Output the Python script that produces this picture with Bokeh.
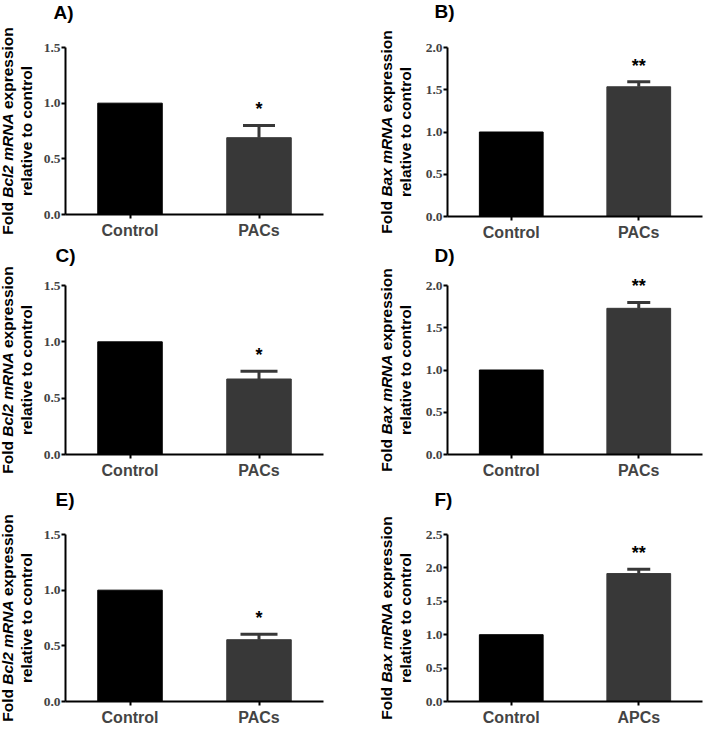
import math
from bokeh.plotting import figure
from bokeh.models import (Range1d, FactorRange, FixedTicker,
                          ColumnDataSource, Whisker, TeeHead)
from bokeh.layouts import column, row
from bokeh.embed import file_html
from bokeh.resources import INLINE
from bokeh.core.properties import value

# ---------------- data ----------------
panel_letters = ["A)", "B)", "C)", "D)", "E)", "F)"]
panel_genes = ["Bcl2", "Bax", "Bcl2", "Bax", "Bcl2", "Bax"]

categories_A = ["Control", "PACs"]
categories_B = ["Control", "PACs"]
categories_C = ["Control", "PACs"]
categories_D = ["Control", "PACs"]
categories_E = ["Control", "PACs"]
categories_F = ["Control", "APCs"]

values_A = [1.0, 0.69]
values_B = [1.0, 1.535]
values_C = [1.0, 0.67]
values_D = [1.0, 1.73]
values_E = [1.0, 0.555]
values_F = [1.0, 1.915]

errors_A = [0.0, 0.11]
errors_B = [0.0, 0.06]
errors_C = [0.0, 0.07]
errors_D = [0.0, 0.07]
errors_E = [0.0, 0.05]
errors_F = [0.0, 0.065]

stars_A = ["", "*"]
stars_B = ["", "**"]
stars_C = ["", "*"]
stars_D = ["", "**"]
stars_E = ["", "*"]
stars_F = ["", "**"]

yticks_bcl2 = [0.0, 0.5, 1.0, 1.5]
ytick_labels_bcl2 = ["0.0", "0.5", "1.0", "1.5"]
yticks_bax = [0.0, 0.5, 1.0, 1.5, 2.0]
ytick_labels_bax = ["0.0", "0.5", "1.0", "1.5", "2.0"]
yticks_bax_f = [0.0, 0.5, 1.0, 1.5, 2.0, 2.5]
ytick_labels_bax_f = ["0.0", "0.5", "1.0", "1.5", "2.0", "2.5"]

ylabel_line2 = "relative to control"

# ---------------- style / layout ----------------
BAR_COLORS = ["#000000", "#383838"]
SANS = "Liberation Sans"
SERIF = "Liberation Serif"
LABEL_FS = 15.5
LETTER_FS = 19
STAR_GAP = 16     # px between error-bar top and star anchor
BASE_SHIFT = 6    # observed drop of alphabetic-baseline text, px

W = {" ": .278, "A": .722, "B": .722, "F": .611, "N": .722, "R": .722,
     "a": .556, "c": .556, "d": .611, "e": .556, "i": .278, "l": .278,
     "m": .889, "n": .611, "o": .611, "p": .611, "r": .389, "s": .556,
     "t": .333, "v": .556, "x": .556, "2": .556}


def tw(s, fs):
    return sum(W.get(ch, .556) for ch in s) * fs


TOTAL_W = 704
lab_w = [40, 48]
main_w = [332, 284]
main_bl = [25, 27]
main_br = [49, 2]
lab_base_x = [(13, 32), (20, 39)]       # wanted baselines in label figure
letter_x = [[53, 434], [55, 434], [55, 434]]

row_start = [0, 244, 484]
strip_h = [26, 22, 26]
main_h = [218, 218, 221]
letter_base = [[18, 17], [261, 261], [505, 505]]   # page y of letter baselines
tick_top = [[21, 21], [19, 19], [24, 24]]
zero_y = [[188, 190], [188, 188], [191, 191]]

panels = [
    (categories_A, values_A, errors_A, stars_A, yticks_bcl2, ytick_labels_bcl2),
    (categories_B, values_B, errors_B, stars_B, yticks_bax, ytick_labels_bax),
    (categories_C, values_C, errors_C, stars_C, yticks_bcl2, ytick_labels_bcl2),
    (categories_D, values_D, errors_D, stars_D, yticks_bax, ytick_labels_bax),
    (categories_E, values_E, errors_E, stars_E, yticks_bcl2, ytick_labels_bcl2),
    (categories_F, values_F, errors_F, stars_F, yticks_bax_f, ytick_labels_bax_f),
]

cap_w = [32, 23, 37, 23, 37, 23]


def blank(w, h):
    f = figure(frame_width=w, frame_height=h,
               x_range=Range1d(0, w), y_range=Range1d(0, h),
               min_border=0, x_axis_type=None, y_axis_type=None,
               output_backend="svg", toolbar_location=None)
    f.outline_line_color = None
    f.border_fill_color = "white"
    f.background_fill_color = "white"
    return f


def make_main(i):
    cats, vals, errs, stars, ticks, tlabels = panels[i]
    r, c = divmod(i, 2)
    ymax = ticks[-1]
    tt = tick_top[r][c]
    zz = zero_y[r][c]
    span = zz - tt
    pxpu = span / ymax
    yend = zz / pxpu
    bb = main_h[r] - zz

    p = figure(frame_width=main_w[c] - main_bl[c] - main_br[c], frame_height=zz,
               x_range=FactorRange(factors=cats),
               y_range=Range1d(0, yend),
               min_border_left=main_bl[c], min_border_right=main_br[c],
               min_border_top=0, min_border_bottom=bb,
               output_backend="svg", toolbar_location=None)
    p.outline_line_color = None
    p.xgrid.visible = False
    p.ygrid.visible = False
    p.border_fill_color = "white"

    src = ColumnDataSource(dict(x=cats, top=vals, color=BAR_COLORS[:len(cats)]))
    p.vbar(x="x", top="top", width=0.5, source=src, fill_color="color",
           line_color="color", line_width=1)

    ex = [x for x, e in zip(cats, errs) if e > 0]
    elo = [v for v, e in zip(vals, errs) if e > 0]
    ehi = [v + e for v, e in zip(vals, errs) if e > 0]
    esrc = ColumnDataSource(dict(base=ex, lower=elo, upper=ehi))
    wh = Whisker(base="base", lower="lower", upper="upper", source=esrc,
                 dimension="height", line_width=3, line_color=BAR_COLORS[1],
                 upper_head=TeeHead(size=cap_w[i], line_width=3,
                                    line_color=BAR_COLORS[1]),
                 lower_head=None)
    p.add_layout(wh)

    star_y = [v + e + STAR_GAP / pxpu for v, e in zip(vals, errs)]
    p.text(x=cats, y=star_y, text=stars, text_font=value(SANS),
           text_font_style="bold", text_font_size="18px", text_color="black",
           text_align="center", text_baseline="alphabetic")

    for ax in (p.xaxis, p.yaxis):
        ax.axis_line_width = 2
        ax.axis_line_color = "black"
        ax.major_tick_line_width = 2
        ax.major_tick_line_color = "black"
        ax.major_tick_in = 0
        ax.major_tick_out = 4
        ax.minor_tick_line_color = None
    p.yaxis.ticker = FixedTicker(ticks=ticks)
    p.yaxis.major_label_overrides = dict(zip(ticks, tlabels))
    p.yaxis.bounds = (0, ymax)
    p.yaxis.major_label_text_font = SERIF
    p.yaxis.major_label_text_font_style = "bold"
    p.yaxis.major_label_text_font_size = "13.5px"
    p.yaxis.major_label_standoff = 1
    p.xaxis.major_label_text_font = SANS
    p.xaxis.major_label_text_font_style = "bold"
    p.xaxis.major_label_text_font_size = "16px"
    p.xaxis.major_label_standoff = 3
    return p


def make_ylabel(i):
    r, c = divmod(i, 2)
    h = main_h[r]
    f = blank(lab_w[c], h)
    zz = zero_y[r][c]
    tt = tick_top[r][c]
    centre = (h - zz) + (zz - tt) / 2
    gene = panel_genes[i] + " mRNA"
    sp = tw(" ", LABEL_FS)
    pieces = [("Fold", "bold", 0.0), (gene, "bold italic", sp),
              ("expression", "bold", sp)]
    total = sum(tw(s, LABEL_FS) + g for s, _, g in pieces)
    y0 = centre - total / 2
    x1, x2 = (b - BASE_SHIFT for b in lab_base_x[c])
    for s, st, g in pieces:
        y0 += g
        wpc = tw(s, LABEL_FS)
        f.text(x=[x1], y=[y0 + wpc / 2], text=[s], angle=math.pi / 2,
               text_align="center", text_baseline="alphabetic",
               text_font=value(SANS), text_font_style=st,
               text_font_size=f"{LABEL_FS}px", text_color="black")
        y0 += wpc
    f.text(x=[x2], y=[centre], text=[ylabel_line2], angle=math.pi / 2,
           text_align="center", text_baseline="alphabetic",
           text_font=value(SANS), text_font_style="bold",
           text_font_size=f"{LABEL_FS}px", text_color="black")
    return f


def make_strip(r):
    h = strip_h[r]
    f = blank(TOTAL_W, h)
    bottom = row_start[r] + h
    ys = [bottom - (b - BASE_SHIFT) for b in letter_base[r]]
    f.text(x=letter_x[r], y=ys,
           text=[panel_letters[2 * r], panel_letters[2 * r + 1]],
           text_align="left", text_baseline="alphabetic",
           text_font=value(SANS), text_font_style="bold",
           text_font_size=f"{LETTER_FS}px", text_color="black")
    return f


rows = []
for r in range(3):
    items = []
    for c in range(2):
        i = 2 * r + c
        items += [make_ylabel(i), make_main(i)]
    rows.append(column(make_strip(r), row(*items)))

layout = column(*rows)
open("out.html", "w").write(file_html(layout, INLINE))
